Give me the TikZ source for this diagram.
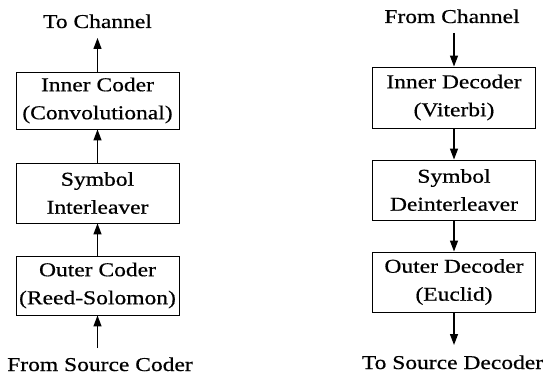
\documentclass[tikz,border=0pt]{standalone}
\usepackage{fontspec}
\setmainfont{Liberation Serif}[FakeStretch=1.2,FakeBold=0.6]
\usetikzlibrary{arrows.meta}
\begin{document}
\begin{tikzpicture}[x=1pt,y=-1pt,
  blk/.style={draw,line width=0.9pt,align=center,inner sep=0pt,
    minimum width=163pt,font=\fontsize{19.6}{28}\selectfont},
  lbl/.style={anchor=base,inner sep=0pt,font=\fontsize{19.6}{28}\selectfont},
  flow/.style={line width=1.3pt,-{Triangle[length=11pt,width=8pt]}}]
\useasboundingbox (0,0) rectangle (546,374);
% left column
\node[blk,minimum height=57pt] (ic) at (97.5,100.5) {Inner Coder\\(Convolutional)};
\node[blk,minimum height=60pt] (si) at (97.5,193) {Symbol\\Interleaver};
\node[blk,minimum height=59pt] (oc) at (97.5,285.5) {Outer Coder\\(Reed-Solomon)};
\node[lbl] (tc) at (97.5,28) {To Channel};
\node[lbl] (fs) at (100,371) {From Source Coder};
\coordinate (tcp) at (97.5,38);
\coordinate (fsp) at (97.5,348);
\draw[flow] (ic.north) -- (tcp);
\draw[flow] (si.north) -- (ic.south);
\draw[flow] (oc.north) -- (si.south);
\draw[flow] (fsp) -- (oc.south);
% right column
\node[blk,minimum height=61pt] (id) at (454,97.5) {Inner Decoder\\(Viterbi)};
\node[blk,minimum height=60pt] (sd) at (454,190) {Symbol\\Deinterleaver};
\node[blk,minimum height=60pt] (od) at (454,282) {Outer Decoder\\(Euclid)};
\node[lbl] (fc) at (452,23) {From Channel};
\node[lbl] (ts) at (452.5,369) {To Source Decoder};
\coordinate (fcp) at (454,33);
\coordinate (tsp) at (454,345);
\draw[flow] (fcp) -- (id.north);
\draw[flow] (id.south) -- (sd.north);
\draw[flow] (sd.south) -- (od.north);
\draw[flow] (od.south) -- (tsp);
\end{tikzpicture}
\end{document}
